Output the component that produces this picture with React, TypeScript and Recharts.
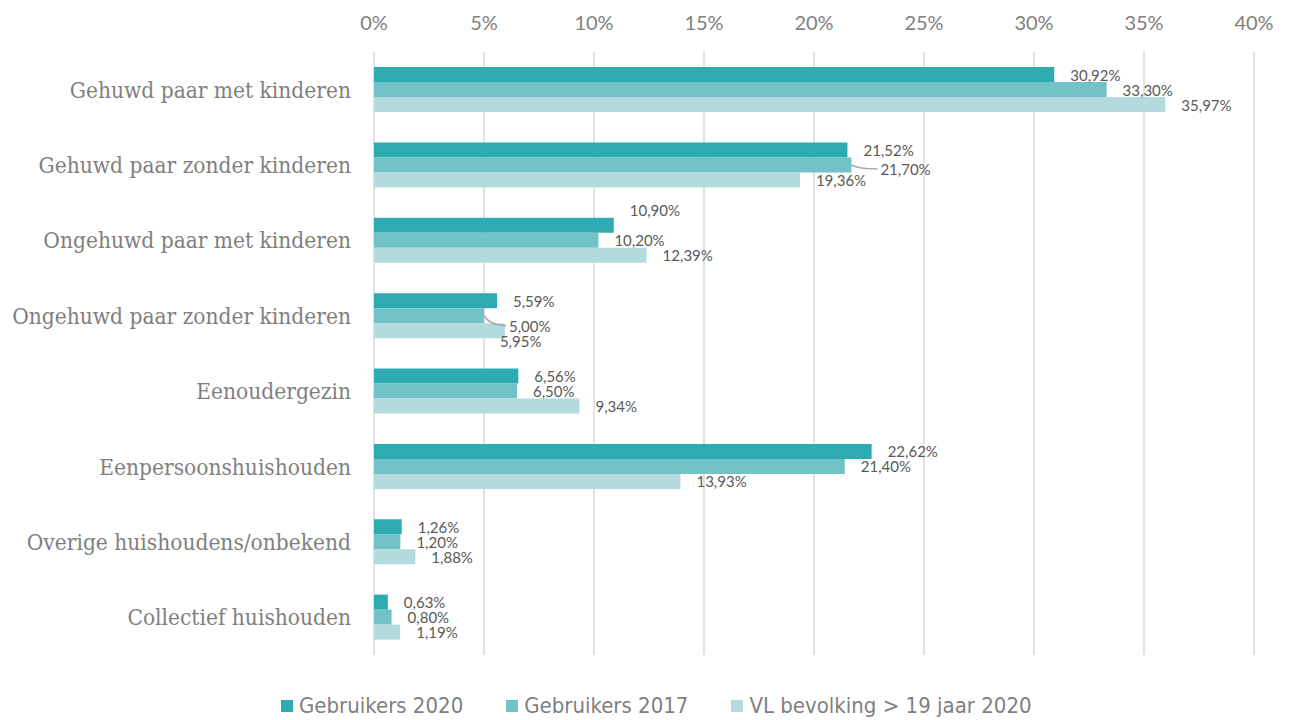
import React from 'react';
import { BarChart, Bar, XAxis, YAxis, CartesianGrid, LabelList } from 'recharts';

const categories = [
  'Gehuwd paar met kinderen',
  'Gehuwd paar zonder kinderen',
  'Ongehuwd paar met kinderen',
  'Ongehuwd paar zonder kinderen',
  'Eenoudergezin',
  'Eenpersoonshuishouden',
  'Overige huishoudens/onbekend',
  'Collectief huishouden',
];

const gebruikers2020 = [30.92, 21.52, 10.9, 5.59, 6.56, 22.62, 1.26, 0.63];
const gebruikers2017 = [33.3, 21.7, 10.2, 5.0, 6.5, 21.4, 1.2, 0.8];
const vlBevolking = [35.97, 19.36, 12.39, 5.95, 9.34, 13.93, 1.88, 1.19];

const xTicks = [0, 5, 10, 15, 20, 25, 30, 35, 40];

const series = [
  { key: 'g2020', name: 'Gebruikers 2020', color: '#2EABB1' },
  { key: 'g2017', name: 'Gebruikers 2017', color: '#72C3C8' },
  { key: 'vl', name: 'VL bevolking > 19 jaar 2020', color: '#B3DADD' },
];

// manual label nudges (like the moved labels in the original)
const labelNudge: Record<string, { dx: number; dy: number; leader?: boolean }> = {
  'g2017-1': { dx: 13, dy: 4, leader: true },
  'g2020-2': { dx: 0, dy: -15 },
  'g2017-3': { dx: 9, dy: 10, leader: true },
  'vl-3': { dx: -21, dy: 10 },
};

const data = categories.map((name, i) => ({
  name,
  g2020: gebruikers2020[i],
  g2017: gebruikers2017[i],
  vl: vlBevolking[i],
}));

const fmt = (v: number) => v.toFixed(2).replace('.', ',') + '%';

const makeLabel = (seriesKey: string) => (props: any) => {
  const { x, y, width, height, value, index } = props;
  const nudge = labelNudge[`${seriesKey}-${index}`] || { dx: 0, dy: 0 };
  const endX = Number(x) + Number(width);
  const midY = Number(y) + Number(height) / 2;
  const tx = endX + 16 + nudge.dx;
  const ty = midY + nudge.dy;
  return (
    <g>
      {nudge.leader && (
        <path
          d={`M${endX},${midY} Q${endX + 6},${ty} ${tx - 3},${ty}`}
          stroke="#A6A6A6"
          strokeWidth={1.5}
          fill="none"
        />
      )}
      <text
        x={tx}
        y={ty}
        dominantBaseline="central"
        fill="#595959"
        fontSize={15}
        fontFamily="Lato, 'Open Sans', sans-serif"
      >
        {fmt(Number(value))}
      </text>
    </g>
  );
};

const LegendRow = () => (
  <div
    style={{
      position: 'absolute',
      left: 281,
      top: 692,
      display: 'flex',
      gap: 43,
      fontFamily: "'DejaVu Sans Condensed', 'DejaVu Sans', sans-serif",
      fontSize: 22,
      lineHeight: '28px',
      color: '#7F7F7F',
      whiteSpace: 'nowrap',
    }}
  >
    {series.map((s) => (
      <div key={s.key} style={{ display: 'flex', alignItems: 'center' }}>
        <span style={{ width: 12, height: 12, background: s.color, marginRight: 6, display: 'inline-block' }} />
        <span>{s.name}</span>
      </div>
    ))}
  </div>
);

export default function App() {
  return (
    <div style={{ position: 'absolute', left: 0, top: 0, width: 1290, height: 720, background: '#fff' }}>
      <BarChart
        width={1290}
        height={720}
        data={data}
        layout="vertical"
        margin={{ top: 0, right: 36, left: 0, bottom: 65 }}
        barSize={15}
        barGap={0}
      >
        <CartesianGrid horizontal={false} vertical stroke="#D9D9D9" strokeWidth={1.5} />
        <XAxis
          type="number"
          orientation="top"
          domain={[0, 40]}
          ticks={xTicks}
          tickFormatter={(v) => `${v}%`}
          axisLine={false}
          tickLine={false}
          tickSize={0}
          tickMargin={22}
          height={52}
          tick={{ fill: '#808080', fontSize: 20, fontFamily: "Lato, 'Open Sans', sans-serif" }}
        />
        <YAxis
          type="category"
          dataKey="name"
          width={374}
          axisLine={false}
          tickLine={false}
          tickSize={0}
          tickMargin={23}
          tick={{ fill: '#7F7F7F', fontSize: 22.5, fontFamily: "'DejaVu Serif Condensed', 'DejaVu Serif', serif" }}
        />
        {series.map((s) => (
          <Bar key={s.key} dataKey={s.key} name={s.name} fill={s.color} isAnimationActive={false}>
            <LabelList dataKey={s.key} content={makeLabel(s.key)} />
          </Bar>
        ))}
      </BarChart>
      <LegendRow />
    </div>
  );
}
